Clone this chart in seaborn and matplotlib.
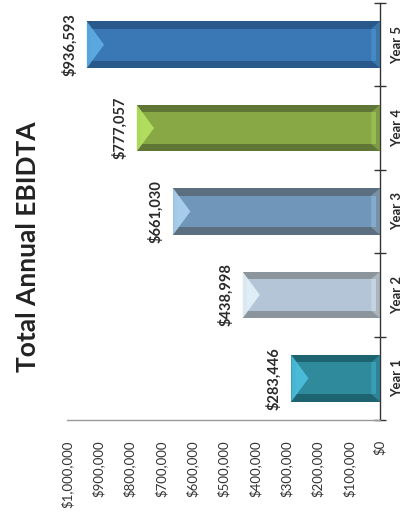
import matplotlib
matplotlib.use("Agg")
import matplotlib.pyplot as plt
from matplotlib.patches import Rectangle, Polygon
import seaborn as sns
import pandas as pd

years = ["Year 1", "Year 2", "Year 3", "Year 4", "Year 5"]
ebitda = [283446, 438998, 661030, 777057, 936593]
value_labels = ["$283,446", "$438,998", "$661,030", "$777,057", "$936,593"]
tick_values = [0, 100000, 200000, 300000, 400000, 500000, 600000, 700000, 800000, 900000, 1000000]
tick_labels = ["$0", "$100,000", "$200,000", "$300,000", "$400,000", "$500,000",
               "$600,000", "$700,000", "$800,000", "$900,000", "$1,000,000"]
title = "Total Annual EBIDTA"

body_colors = ["#2f8b9c", "#b3c5d6", "#7097b9", "#87a845", "#3a78b5"]
edge_colors = ["#1e6470", "#8d959c", "#5b6f80", "#5f7636", "#29598a"]
tip_colors = ["#4cc0de", "#e4f2fa", "#aed3f2", "#b6e462", "#5eaee4"]

sns.set_style("white")
plt.rcParams["font.family"] = ["Lato", "DejaVu Sans"]

fig = plt.figure(figsize=(4.04, 5.27), dpi=100)
ax = fig.add_axes([67 / 404, 1 - 420 / 527, (380 - 67) / 404, (420 - 3) / 527])

df = pd.DataFrame({"year": years, "value": ebitda})
sns.barplot(data=df, x="value", y="year", hue="year", order=years, hue_order=years,
            palette=edge_colors, orient="h", width=0.56, legend=False, ax=ax,
            saturation=1, edgecolor="none")

ax.set_xlim(1000000, 0)
ax.set_ylim(-0.5, len(years) - 0.5)

# bevel decoration derived from the bar patches
for patch, body, tip in zip(list(ax.patches), body_colors, tip_colors):
    x0 = patch.get_x()
    w = patch.get_width()
    y0 = patch.get_y()
    h = patch.get_height()
    xa, xb = min(x0, x0 + w), max(x0, x0 + w)
    insx = 14000
    insy = h * 0.16
    ax.add_patch(Rectangle((xa + insx, y0 + insy), (xb - xa) - 2 * insx, h - 2 * insy,
                           facecolor=body, edgecolor="none", zorder=3))
    depth = 55000
    ax.add_patch(Polygon([(xb, y0), (xb, y0 + h), (xb - depth, y0 + h / 2)],
                         closed=True, facecolor=tip, edgecolor="none", zorder=4, alpha=0.9))
    ax.add_patch(Polygon([(xa, y0), (xa, y0 + h), (xa + insx * 2, y0 + h - insy),
                          (xa + insx * 2, y0 + insy)],
                         closed=True, facecolor=tip, edgecolor="none", zorder=4, alpha=0.35))

for i, (v, lab) in enumerate(zip(ebitda, value_labels)):
    ax.annotate(lab, xy=(v, i), xytext=(-7, 0), textcoords="offset points",
                rotation=90, ha="right", va="center", fontsize=10.5,
                fontweight="bold", color="#2a2a2a")

ax.set_xticks(tick_values)
ax.set_xticklabels(tick_labels, rotation=90, fontsize=9.5, color="#333333")
for t in ax.get_xticklabels():
    t.set_verticalalignment("top")
ax.tick_params(axis="x", direction="inout", length=5, width=0.8, color="#999999", pad=12)

ax.yaxis.tick_right()
ax.set_yticks(range(len(years)))
ax.set_yticklabels(years, rotation=90, fontsize=9.5, fontweight="bold", color="#2a2a2a")
for t in ax.get_yticklabels():
    t.set_horizontalalignment("left")
    t.set_verticalalignment("center")
ax.tick_params(axis="y", which="major", length=0, pad=8)
ax.set_yticks([i - 0.5 for i in range(len(years) + 1)], minor=True)
ax.tick_params(axis="y", which="minor", direction="inout", length=8, width=1, color="#333333", right=True)

ax.set_xlabel("")
ax.set_ylabel("")
for s in ["left", "top"]:
    ax.spines[s].set_visible(False)
ax.spines["bottom"].set_color("#999999")
ax.spines["bottom"].set_linewidth(1)
ax.spines["right"].set_visible(True)
ax.spines["right"].set_color("#333333")
ax.spines["right"].set_linewidth(1)
ax.grid(False)

fig.text(28 / 404, 1 - 247 / 527, title, rotation=90, ha="center", va="center",
         fontsize=19, fontweight="bold", color="#222222")

fig.savefig("out.png", dpi=100, facecolor="white")
